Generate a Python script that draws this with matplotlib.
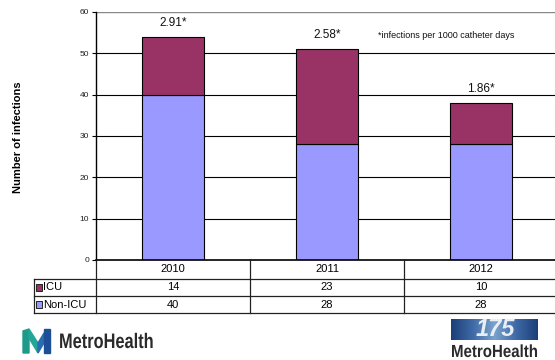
import numpy as np
import matplotlib
matplotlib.use("Agg")
import matplotlib.pyplot as plt
from matplotlib.patches import Rectangle, Polygon, PathPatch
from matplotlib.textpath import TextPath
from matplotlib.font_manager import FontProperties
from matplotlib.transforms import Affine2D
from matplotlib.colors import LinearSegmentedColormap

plt.rcParams['font.family'] = ['Liberation Sans', 'DejaVu Sans']

# Data
years = ["2010", "2011", "2012"]
icu = [14, 23, 10]
non_icu = [40, 28, 28]
rates = ["2.91*", "2.58*", "1.86*"]
series_names = ["ICU", "Non-ICU"]
icu_color = "#993366"
non_icu_color = "#9999FF"

W, H = 555, 360
fig = plt.figure(figsize=(W / 100, H / 100), dpi=100)

# Main chart axes (pixel layout converted to figure fractions)
ax_l, ax_r, ax_t, ax_b = 96, 558, 12, 260
ax = fig.add_axes([ax_l / W, (H - ax_b) / H, (ax_r - ax_l) / W, (ax_b - ax_t) / H])
x = np.arange(len(years))
ax.set_xlim(-0.5, len(years) - 0.5)
ax.set_ylim(0, 60)
ax.set_yticks(np.arange(0, 61, 10))
for yv in range(10, 60, 10):
    ax.axhline(yv, color="black", lw=0.8, zorder=1)
ax.axhline(60, color="#888888", lw=1.0, zorder=1)

bw = 0.4
ax.bar(x, non_icu, width=bw, color=non_icu_color, edgecolor="black", lw=0.8, zorder=2)
ax.bar(x, icu, width=bw, bottom=non_icu, color=icu_color, edgecolor="black", lw=0.8, zorder=2)

for xi, n, i, r in zip(x, non_icu, icu, rates):
    ax.annotate(r, (xi, n + i), xytext=(0, 10), textcoords="offset points",
                ha="center", va="center", fontsize=8.5, color="#111111")

ax.text(0.61, 0.905, "*infections per 1000 catheter days", transform=ax.transAxes,
        fontsize=6.5, color="#111111", ha="left", va="center")

for s in ["top", "right"]:
    ax.spines[s].set_visible(False)
ax.spines["left"].set_linewidth(1.0)
ax.spines["bottom"].set_linewidth(1.2)
ax.tick_params(axis="y", direction="out", length=3, width=0.8, labelsize=6,
               labelcolor="#222222", pad=2)
ax.tick_params(axis="x", length=0, labelbottom=False)

fig.text(18 / W, 1 - 137 / H, "Number of infections", rotation=90, ha="center",
         va="center", fontsize=8, fontweight="bold")

# Data table under the chart
tb_l, tb_t, tb_b = 34, 260, 313
tax = fig.add_axes([tb_l / W, (H - tb_b) / H, (ax_r - tb_l) / W, (tb_b - tb_t) / H])
tax.set_xlim(-0.5 - (ax_l - tb_l) / ((ax_r - ax_l) / len(years)), len(years) - 0.5)
tax.set_ylim(tb_b - tb_t, 0)
tax.axis("off")
x_left = tax.get_xlim()[0]
rows_y = [0, 19, 36, 53]
lc = "#222222"
for yb in rows_y[1:]:
    tax.plot([x_left, len(years) - 0.5], [yb, yb], color=lc, lw=0.9, clip_on=False)
tax.plot([x_left, x_left], [rows_y[1], rows_y[3]], color=lc, lw=0.9, clip_on=False)
for b in np.arange(len(years)) - 0.5:
    tax.plot([b, b], [0, rows_y[3]], color=lc, lw=0.9, clip_on=False)
for xi, yr in zip(x, years):
    tax.text(xi, (rows_y[0] + rows_y[1]) / 2, yr, ha="center", va="center", fontsize=8)
for row, (name, vals, col) in enumerate(zip(series_names, [icu, non_icu], [icu_color, non_icu_color])):
    yc = (rows_y[row + 1] + rows_y[row + 2]) / 2
    for xi, v in zip(x, vals):
        tax.text(xi, yc, str(v), ha="center", va="center", fontsize=8)
    tax.add_patch(Rectangle((x_left + 0.012, yc - 3.3), 0.04, 6.6, facecolor=col,
                            edgecolor="#222222", lw=0.7, clip_on=False))
    tax.text(x_left + 0.058, yc, name, ha="left", va="center", fontsize=8)

# Footer logos, drawn in a pixel-space overlay
lax = fig.add_axes([0, 0, 1, 1], zorder=-1)
lax.set_xlim(0, W)
lax.set_ylim(0, H)
lax.axis("off")


def py(v):
    return H - v


def narrow_text(s, x0, ybase, size, sx, color):
    fp = FontProperties(family="Liberation Sans", weight="bold")
    tp = TextPath((0, 0), s, size=size, prop=fp)
    tr = Affine2D().scale(sx, 1.0).translate(x0, py(ybase))
    lax.add_patch(PathPatch(tr.transform_path(tp), facecolor=color, edgecolor="none"))


# left "MH" mark
lax.add_patch(Polygon([[23, py(331)], [29, py(329)], [29, py(353)], [23, py(353)]], closed=True, color="#1f9a8a"))
lax.add_patch(Polygon([[29, py(329)], [38, py(343)], [38, py(353)], [29, py(338)]], closed=True, color="#23a597"))
lax.add_patch(Polygon([[38, py(343)], [44, py(333)], [44, py(343)], [38, py(353)]], closed=True, color="#2b6cb0"))
lax.add_patch(Polygon([[44, py(329)], [50, py(329)], [50, py(353)], [44, py(353)]], closed=True, color="#1d4f96"))
narrow_text("MetroHealth", 59, 348, 21, 0.78, "#2a2a2a")

# right anniversary logo
grad = np.vstack([np.linspace(0, 1, 200)] * 10)
cmap = LinearSegmentedColormap.from_list("blu", ["#1c3f78", "#3f6aa6", "#7aa2cc", "#3f6aa6", "#1c3f78"])
lax.imshow(grad, extent=(451, 538, py(340), py(319)), cmap=cmap, aspect="auto", zorder=1)
lax.text(495, py(329.5), "175", ha="center", va="center", fontsize=17, fontstyle="italic",
         fontweight="bold", color="#e8eef6", zorder=2)
narrow_text("MetroHealth", 451, 357, 17.5, 0.86, "#2a2a2a")
lax.set_xlim(0, W)
lax.set_ylim(0, H)

fig.savefig("out.png", dpi=100)
